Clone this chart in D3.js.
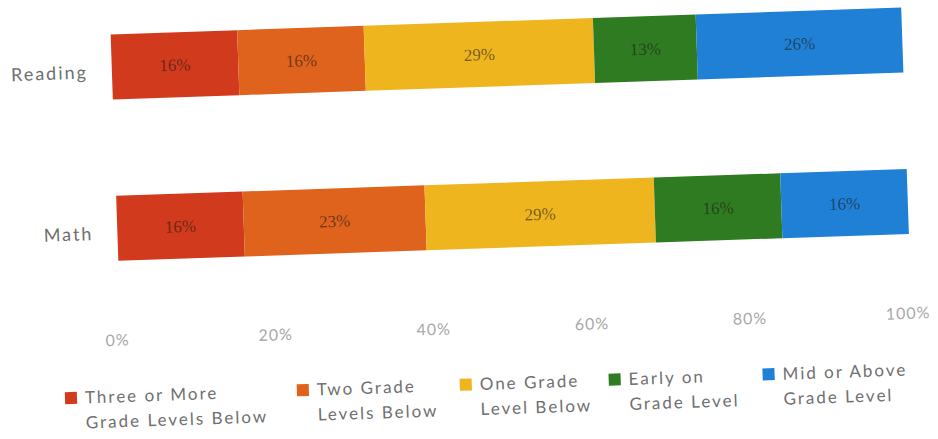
<!DOCTYPE html>
<html>
<head>
<meta charset="utf-8">
<script src="https://cdn.jsdelivr.net/npm/d3@7"></script>
<style>
  html, body { margin: 0; padding: 0; background: #fff; }
  svg { display: block; }
</style>
</head>
<body>
<svg id="chart" width="938" height="439"></svg>
<script>
// Subjects shown as horizontal 100% stacked bars
const subjects = ["Reading", "Math"];

// Share of students in each grade-level band (percent)
const levels = [
  "Three or More Grade Levels Below",
  "Two Grade Levels Below",
  "One Grade Level Below",
  "Early on Grade Level",
  "Mid or Above Grade Level"
];
const readingValues = [16, 16, 29, 13, 26];
const mathValues = [16, 23, 29, 16, 16];

// Axis tick labels
const tickValues = [0, 20, 40, 60, 80, 100];
const tickLabels = ["0%", "20%", "40%", "60%", "80%", "100%"];

// Legend text, split over two lines
const legendLines = [
  ["Three or More", "Grade Levels Below"],
  ["Two Grade", "Levels Below"],
  ["One Grade", "Level Below"],
  ["Early on", "Grade Level"],
  ["Mid or Above", "Grade Level"]
];

const colors = ["#d13a1d", "#df621d", "#efb51f", "#2f7b22", "#1f80d6"];

const valuesBySubject = { "Reading": readingValues, "Math": mathValues };

const svg = d3.select("#chart");
// the printed page sits slightly tilted
const root = svg.append("g").attr("transform", "rotate(-1.95, 509, 185)");

const x = d3.scaleLinear().domain([0, 100]).range([116, 907]);
const y = d3.scaleBand().domain(subjects).range([21, 247.5])
  .paddingInner(0.5975).paddingOuter(0.0);

const color = d3.scaleOrdinal().domain(levels).range(colors);

// build stacked data
const rows = subjects.map(s => {
  const o = { subject: s };
  levels.forEach((l, i) => o[l] = valuesBySubject[s][i]);
  return o;
});
const stack = d3.stack().keys(levels)(rows);

const layer = root.append("g").selectAll("g")
  .data(stack).join("g")
  .attr("fill", d => color(d.key));

layer.selectAll("rect")
  .data(d => d.map(v => ({ key: d.key, v })))
  .join("rect")
  .attr("x", d => x(d.v[0]))
  .attr("y", d => y(d.v.data.subject))
  .attr("width", d => x(d.v[1]) - x(d.v[0]))
  .attr("height", y.bandwidth());

// value labels inside segments
layer.selectAll("text")
  .data(d => d.map(v => ({ key: d.key, v })))
  .join("text")
  .attr("x", d => (x(d.v[0]) + x(d.v[1])) / 2)
  .attr("y", d => y(d.v.data.subject) + y.bandwidth() / 2)
  .attr("dy", "0.35em")
  .attr("text-anchor", "middle")
  .attr("fill", "#1e1a16")
  .attr("fill-opacity", 0.6)
  .style("font-family", "'Liberation Serif', 'DejaVu Serif', serif")
  .style("font-size", "17px")
  .text(d => (d.v[1] - d.v[0]) + "%");

// subject labels
const yAxis = d3.axisLeft(y).tickSize(0).tickPadding(24);
const yg = root.append("g").attr("transform", `translate(${x(0)},0)`).call(yAxis);
yg.select(".domain").remove();
yg.selectAll("text")
  .attr("dy", "0.6em")
  .attr("fill", "#6e6e6e")
  .style("font-family", "Lato, 'Open Sans', sans-serif")
  .style("font-size", "18px")
  .style("letter-spacing", "2px");

// percentage axis
const xAxis = d3.axisBottom(x).tickValues(tickValues)
  .tickFormat((d, i) => tickLabels[i]).tickSize(0).tickPadding(0);
const xg = root.append("g").attr("transform", "translate(-4,321)").call(xAxis);
xg.select(".domain").remove();
xg.selectAll("text")
  .attr("fill", "#a8a8a8")
  .style("font-family", "Lato, 'Open Sans', sans-serif")
  .style("font-size", "16px")
  .style("letter-spacing", "1px");

// legend
const legendX = [58, 290, 453, 602, 756];
const legend = root.append("g").selectAll("g")
  .data(levels).join("g")
  .attr("transform", (d, i) => `translate(${legendX[i]},383)`);

legend.append("rect")
  .attr("x", 0).attr("y", -6)
  .attr("width", 12).attr("height", 12)
  .attr("fill", d => color(d));

legend.append("text")
  .attr("fill", "#707070")
  .style("font-family", "Lato, 'Open Sans', sans-serif")
  .style("font-size", "17px")
  .style("letter-spacing", "2px")
  .selectAll("tspan")
  .data((d, i) => legendLines[i])
  .join("tspan")
  .attr("x", 20)
  .attr("y", (d, j) => j * 25)
  .attr("dy", "0.35em")
  .text(d => d);
</script>
</body>
</html>
